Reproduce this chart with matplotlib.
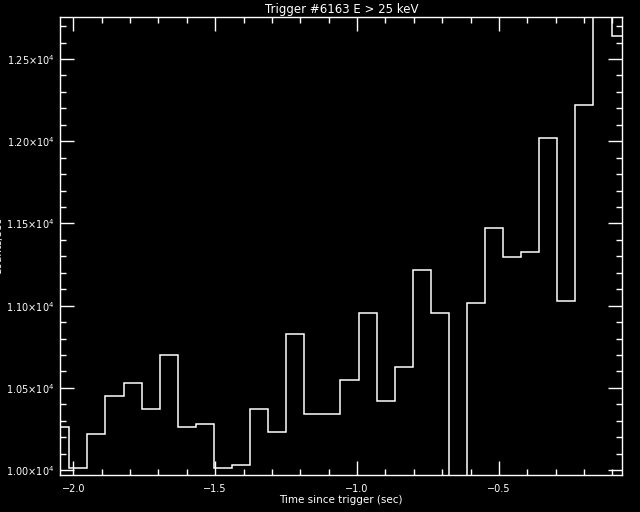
import numpy as np
import matplotlib
matplotlib.use("Agg")
import matplotlib.pyplot as plt
from matplotlib.ticker import FixedLocator, MultipleLocator

# Data: 64 ms bins of count rate (counts/sec)
bin_start = -2.0779
bin_width = 0.0637
counts = [10260, 10010, 10217, 10448, 10527, 10369, 10698, 10260, 10280, 10010,
          10029, 10369, 10229, 10825, 10339, 10339, 10546, 10953, 10418, 10627,
          11215, 10953, 9800, 11014, 11470, 11294, 11324, 12018, 11028, 12218,
          12950, 12638]
edges = bin_start + bin_width * np.arange(len(counts) + 1)

x_ticks = [-2.0, -1.5, -1.0, -0.5]
x_tick_labels = ["\u22122.0", "\u22121.5", "\u22121.0", "\u22120.5"]
y_ticks = [10000, 10500, 11000, 11500, 12000, 12500]
y_tick_labels = ["1.00\u00d710$^{4}$", "1.05\u00d710$^{4}$", "1.10\u00d710$^{4}$",
                 "1.15\u00d710$^{4}$", "1.20\u00d710$^{4}$", "1.25\u00d710$^{4}$"]

title = "Trigger #6163 E > 25 keV"
xlabel = "Time since trigger (sec)"
ylabel = "Counts/sec"

plt.rcParams['font.family'] = ['DejaVu Sans']
fig = plt.figure(figsize=(6.4, 5.12), dpi=100, facecolor='black')
ax = fig.add_axes([0.0942, 0.0717, 0.8781, 0.8945], facecolor='black')

ax.stairs(counts, edges, baseline=None, color='white', linewidth=1.1)

ax.set_xlim(-2.046, -0.0655)
ax.set_ylim(9968, 12754)

ax.xaxis.set_major_locator(FixedLocator(x_ticks))
ax.set_xticklabels(x_tick_labels)
ax.xaxis.set_minor_locator(MultipleLocator(0.1))
ax.yaxis.set_major_locator(FixedLocator(y_ticks))
ax.set_yticklabels(y_tick_labels)
ax.yaxis.set_minor_locator(MultipleLocator(100))

for s in ax.spines.values():
    s.set_color('white')
    s.set_linewidth(1.0)

ax.tick_params(which='both', direction='in', colors='white', top=True, right=True,
               labelsize=7, width=1.0)
ax.tick_params(which='major', length=10)
ax.tick_params(which='minor', length=4.5)
ax.tick_params(axis='x', which='major', pad=6)
ax.tick_params(axis='y', which='major', pad=4, labelsize=7)

ax.set_title(title, color='white', fontsize=8.5, pad=3)
ax.set_xlabel(xlabel, color='white', fontsize=7.5, labelpad=1)
fig.text(0.005, 0.5186, ylabel, rotation=90, ha='right', va='center',
         color='white', fontsize=7.5)

fig.savefig("out.png", dpi=100, facecolor='black')
